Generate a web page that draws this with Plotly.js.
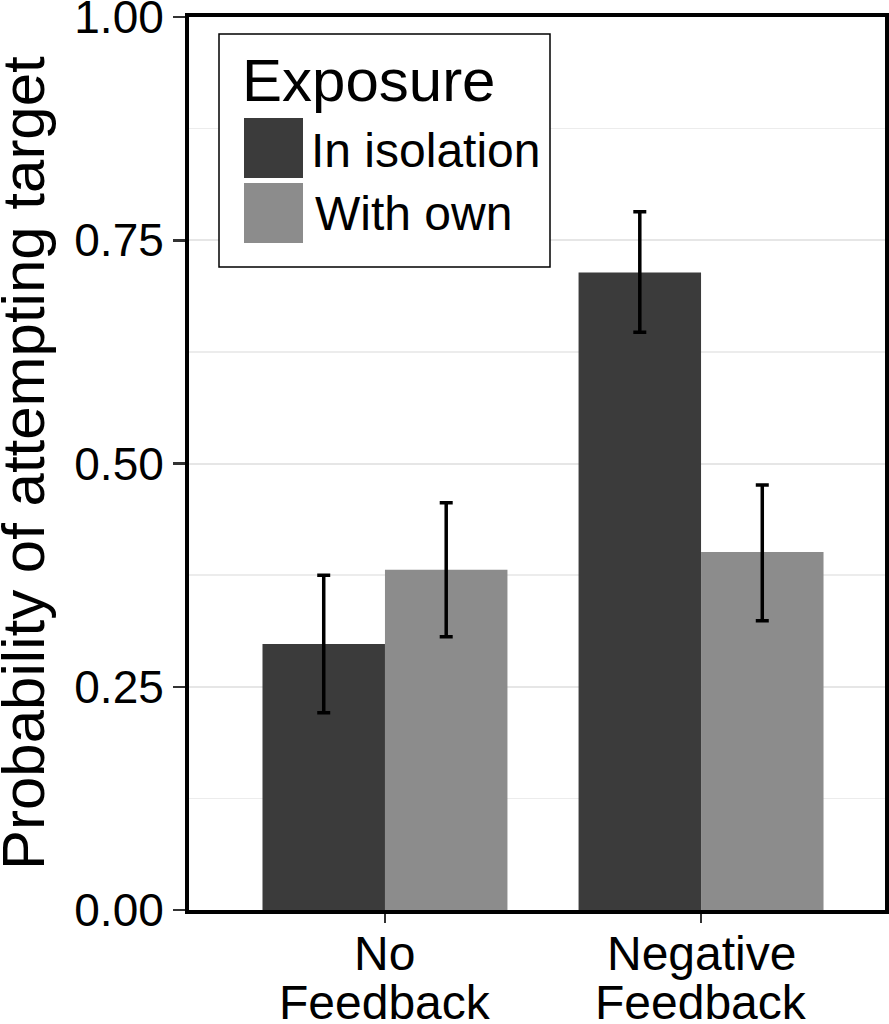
<!DOCTYPE html>
<html>
<head>
<meta charset="utf-8">
<script src="https://cdn.plot.ly/plotly-3.0.1.min.js"></script>
<style>html,body{margin:0;padding:0;background:#fff;}#chart{width:889px;height:1024px;}</style>
</head>
<body>
<div id="chart"></div>
<script>
// Data
const categories = ["No<br>Feedback", "Negative<br>Feedback"];
const seriesNames = ["In isolation", "With own"];
const isolationValues = [0.298, 0.714];
const isolationUpper = [0.375, 0.782];
const isolationLower = [0.221, 0.647];
const withOwnValues = [0.381, 0.401];
const withOwnUpper = [0.456, 0.476];
const withOwnLower = [0.306, 0.324];
const yTickVals = [0, 0.25, 0.5, 0.75, 1];
const yTickText = ["0.00", "0.25", "0.50", "0.75", "1.00"];
const legendTitle = "Exposure";
const yTitle = "Probability of attempting target";

const colors = ["#3b3b3b", "#8c8c8c"];
const FONT = "Liberation Sans, Arial, Helvetica, sans-serif";

function errs(vals, up, lo) {
  return {
    type: "data", symmetric: false,
    array: up.map((u, i) => u - vals[i]),
    arrayminus: lo.map((l, i) => vals[i] - l),
    color: "#000", thickness: 3.5, width: 6.5
  };
}

const catPos = categories.map((c, i) => i);

const traces = [
  {type: "bar", name: seriesNames[0], x: catPos, y: isolationValues,
   marker: {color: colors[0]}, error_y: errs(isolationValues, isolationUpper, isolationLower),
   showlegend: false, hoverinfo: "none"},
  {type: "bar", name: seriesNames[1], x: catPos, y: withOwnValues,
   marker: {color: colors[1]}, error_y: errs(withOwnValues, withOwnUpper, withOwnLower),
   showlegend: false, hoverinfo: "none"}
];

// plot area in pixels
const L = 189, R = 885, T = 17, B = 910;
const px = x => (x - L) / (R - L);
const py = y => (B - y) / (B - T);

const shapes = [
  {type: "rect", xref: "paper", yref: "paper", x0: px(219), x1: px(550), y0: py(267), y1: py(34),
   line: {color: "#000", width: 1.5}, fillcolor: "#fff", layer: "above"},
  {type: "rect", xref: "paper", yref: "paper", x0: px(244), x1: px(303), y0: py(178), y1: py(118),
   line: {width: 0}, fillcolor: colors[0], layer: "above"},
  {type: "rect", xref: "paper", yref: "paper", x0: px(244), x1: px(303), y0: py(243), y1: py(183),
   line: {width: 0}, fillcolor: colors[1], layer: "above"}
];

const annotations = [
  {xref: "paper", yref: "paper", x: px(240), y: py(80), text: legendTitle, showarrow: false,
   xanchor: "left", yanchor: "middle", font: {family: FONT, size: 60, color: "#000"}},
  {xref: "paper", yref: "paper", x: px(309), y: py(150), text: seriesNames[0], showarrow: false,
   xanchor: "left", yanchor: "middle", font: {family: FONT, size: 48, color: "#000"}},
  {xref: "paper", yref: "paper", x: px(313), y: py(214), text: seriesNames[1], showarrow: false,
   xanchor: "left", yanchor: "middle", font: {family: FONT, size: 48, color: "#000"}},
  // y-axis title
  {xref: "paper", yref: "paper", x: px(23), y: py(463), text: yTitle, showarrow: false,
   textangle: -90, xanchor: "center", yanchor: "middle", font: {family: FONT, size: 60, color: "#000"}}
];

// category labels as two tight lines each
categories.forEach((c, i) => {
  const lines = c.split("<br>");
  lines.forEach((ln, j) => {
    annotations.push({xref: "x", yref: "paper", x: catPos[i], y: py(953 + j * 49), text: ln,
      showarrow: false, xanchor: "center", yanchor: "middle",
      font: {family: FONT, size: 48, color: "#000"}});
  });
});

const layout = {
  width: 889, height: 1024,
  margin: {l: L, r: 889 - R, t: T, b: 1024 - B, pad: 0},
  paper_bgcolor: "#fff", plot_bgcolor: "#fff",
  barmode: "group", bargap: 0.225, bargroupgap: 0,
  font: {family: FONT, color: "#000"},
  xaxis: {
    range: [-0.62, 1.582], tickvals: catPos, showticklabels: false,
    ticks: "outside", ticklen: 9, tickwidth: 2.5, tickcolor: "#333",
    showline: true, linecolor: "#000", linewidth: 4, mirror: true,
    showgrid: false, zeroline: false
  },
  yaxis: {
    range: [0, 1], tickvals: yTickVals, ticktext: yTickText,
    ticks: "outside", ticklen: 12, tickwidth: 2.5, tickcolor: "#333",
    ticklabeloverflow: "allow",
    showline: true, linecolor: "#000", linewidth: 4, mirror: true,
    showgrid: true, gridcolor: "#e6e6e6", gridwidth: 2, zeroline: false,
    minor: {tickvals: [0.125, 0.375, 0.625, 0.875], showgrid: true, gridcolor: "#ececec", gridwidth: 1.5, ticks: ""},
    tickfont: {family: FONT, size: 46, color: "#000"}
  },
  shapes: shapes,
  annotations: annotations
};

Plotly.newPlot("chart", traces, layout, {staticPlot: true, displayModeBar: false});
</script>
</body>
</html>
